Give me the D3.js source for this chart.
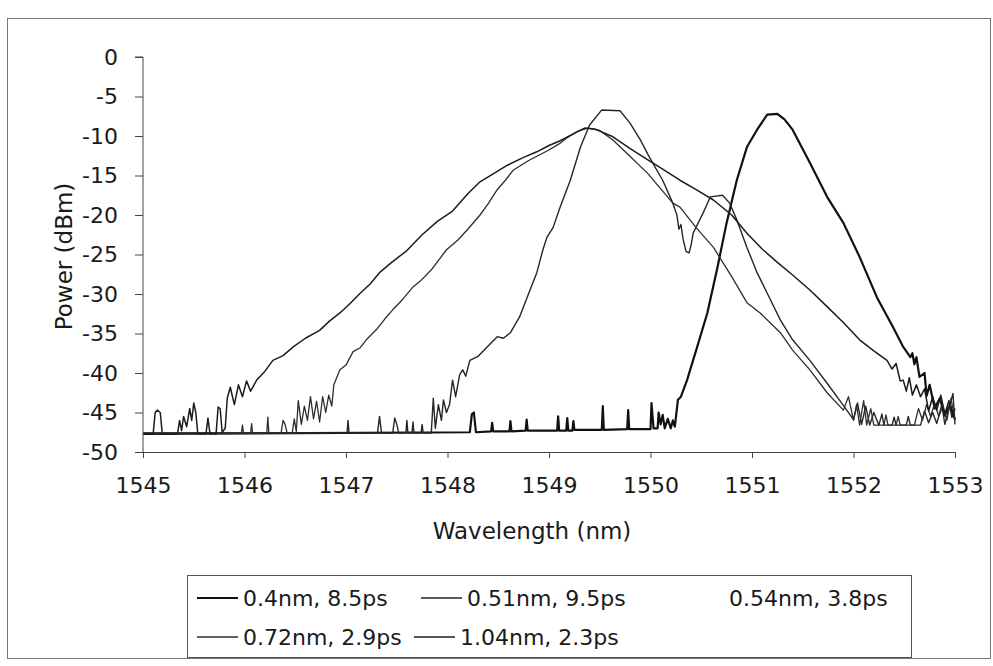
<!DOCTYPE html>
<html>
<head>
<meta charset="utf-8">
<script src="https://cdn.jsdelivr.net/npm/d3@7"></script>
<style>
  body { margin: 0; background: #fff; }
  svg { display: block; font-family: "DejaVu Sans", Verdana, sans-serif; }
</style>
</head>
<body>
<div id="chart"></div>
<script>
// series names, in legend order
const seriesNames = ["0.4nm, 8.5ps", "0.51nm, 9.5ps", "0.54nm, 3.8ps", "0.72nm, 2.9ps", "1.04nm, 2.3ps"];

const xTicks = [1545, 1546, 1547, 1548, 1549, 1550, 1551, 1552, 1553];
const yTicks = [0, -5, -10, -15, -20, -25, -30, -35, -40, -45, -50];

// [wavelength nm, power dBm]
const s040 = [
  [1545.00, -47.7], [1548.22, -47.5], [1548.24, -45.2], [1548.26, -45.0], [1548.28, -47.5],
  [1548.43, -47.4], [1548.44, -46.3], [1548.45, -47.4], [1548.61, -47.4], [1548.62, -46.1],
  [1548.63, -47.4], [1548.77, -47.3], [1548.78, -45.9], [1548.79, -47.3], [1549.08, -47.3],
  [1549.09, -45.5], [1549.10, -47.3], [1549.17, -47.3], [1549.18, -45.7], [1549.19, -47.3],
  [1549.23, -47.3], [1549.24, -46.1], [1549.25, -47.2], [1549.52, -47.2], [1549.53, -44.2],
  [1549.54, -47.2], [1549.77, -47.1], [1549.78, -44.7], [1549.79, -47.1], [1550.00, -47.1],
  [1550.01, -43.8], [1550.02, -45.5], [1550.03, -47.0], [1550.07, -47.0], [1550.08, -45.0],
  [1550.10, -46.5], [1550.12, -45.3], [1550.14, -47.0], [1550.17, -45.8], [1550.20, -47.0],
  [1550.22, -46.0], [1550.24, -46.8], [1550.27, -43.4], [1550.30, -43.0], [1550.36, -40.9],
  [1550.46, -36.7], [1550.56, -32.4], [1550.66, -26.6], [1550.75, -21.0], [1550.85, -15.6],
  [1550.95, -11.4], [1551.05, -9.2], [1551.15, -7.3], [1551.25, -7.2], [1551.32, -7.9],
  [1551.40, -9.2], [1551.57, -13.4], [1551.74, -17.7], [1551.90, -21.0], [1552.06, -25.3],
  [1552.23, -30.4], [1552.39, -34.2], [1552.49, -36.7], [1552.56, -38.0], [1552.58, -37.5],
  [1552.60, -38.9], [1552.62, -38.0], [1552.65, -40.5], [1552.70, -40.0], [1552.72, -42.9],
  [1552.75, -41.5], [1552.80, -44.5], [1552.85, -43.2], [1552.90, -45.4], [1552.95, -44.0],
  [1553.00, -45.9]
];

const s051 = [
  [1545.00, -47.6], [1547.01, -47.6], [1547.02, -46.0], [1547.03, -47.6], [1547.31, -47.6],
  [1547.33, -45.5], [1547.35, -47.6], [1547.46, -47.6], [1547.48, -45.7], [1547.50, -46.5],
  [1547.52, -47.6], [1547.59, -47.6], [1547.60, -46.0], [1547.61, -47.6], [1547.65, -47.6],
  [1547.66, -46.2], [1547.67, -47.6], [1547.74, -47.6], [1547.75, -46.5], [1547.76, -47.6],
  [1547.84, -47.6], [1547.86, -43.2], [1547.88, -47.0], [1547.91, -44.0], [1547.94, -46.0],
  [1547.96, -43.4], [1547.99, -45.0], [1548.02, -44.0], [1548.05, -40.9], [1548.08, -43.0],
  [1548.12, -40.2], [1548.15, -39.6], [1548.18, -40.4], [1548.22, -38.4], [1548.30, -37.9],
  [1548.39, -36.7], [1548.49, -35.4], [1548.55, -35.6], [1548.62, -34.9], [1548.71, -32.9],
  [1548.81, -29.6], [1548.88, -27.3], [1548.94, -24.4], [1548.98, -22.8], [1549.04, -21.6],
  [1549.11, -19.0], [1549.21, -15.6], [1549.31, -11.4], [1549.40, -8.6], [1549.52, -6.7],
  [1549.70, -6.8], [1549.80, -8.4], [1549.90, -10.5], [1549.99, -12.7], [1550.12, -15.6],
  [1550.22, -18.5], [1550.26, -20.0], [1550.28, -21.8], [1550.30, -21.2], [1550.32, -23.0],
  [1550.35, -24.6], [1550.38, -24.8], [1550.40, -23.8], [1550.42, -22.3], [1550.52, -19.7],
  [1550.59, -17.7], [1550.71, -17.5], [1550.78, -18.5], [1550.85, -20.6], [1550.95, -24.1],
  [1551.05, -27.3], [1551.15, -29.9], [1551.28, -33.3], [1551.40, -35.8], [1551.57, -38.4],
  [1551.74, -41.3], [1551.90, -44.1], [1552.00, -45.9], [1552.04, -43.8], [1552.08, -46.5],
  [1552.12, -44.2], [1552.16, -46.6], [1552.20, -45.0], [1552.25, -46.6], [1552.28, -45.2],
  [1552.30, -46.6], [1552.38, -46.6], [1552.40, -45.6], [1552.42, -46.6], [1552.52, -46.6],
  [1552.54, -45.5], [1552.56, -46.6], [1552.66, -46.6], [1552.70, -44.8], [1552.74, -46.3],
  [1552.78, -45.0], [1552.82, -46.4], [1552.87, -44.0], [1552.90, -46.5], [1552.94, -44.5],
  [1552.98, -42.6], [1553.00, -46.5]
];

// no visible trace for this one in the picture
const s054 = [];

const s072 = [
  [1545.00, -47.6], [1545.97, -47.6], [1545.98, -46.6], [1545.99, -47.6], [1546.06, -47.6],
  [1546.07, -46.4], [1546.08, -47.6], [1546.22, -47.6], [1546.23, -45.6], [1546.24, -47.6],
  [1546.36, -47.6], [1546.38, -46.0], [1546.40, -46.5], [1546.42, -47.6], [1546.47, -47.6],
  [1546.49, -45.8], [1546.51, -47.4], [1546.53, -43.5], [1546.56, -46.5], [1546.59, -44.2],
  [1546.62, -46.0], [1546.65, -43.0], [1546.68, -45.8], [1546.71, -43.6], [1546.74, -46.2],
  [1546.77, -43.0], [1546.80, -45.0], [1546.83, -42.8], [1546.86, -44.2], [1546.88, -41.5],
  [1546.94, -39.6], [1547.00, -39.0], [1547.07, -37.3], [1547.14, -36.8], [1547.20, -35.8],
  [1547.30, -34.5], [1547.38, -33.2], [1547.46, -32.0], [1547.55, -30.8], [1547.66, -29.1],
  [1547.73, -28.4], [1547.85, -26.8], [1547.99, -24.4], [1548.10, -23.2], [1548.20, -21.8],
  [1548.32, -20.0], [1548.40, -18.6], [1548.49, -16.8], [1548.57, -15.6], [1548.65, -14.3],
  [1548.80, -13.1], [1548.98, -11.9], [1549.10, -11.0], [1549.18, -10.2], [1549.28, -9.4],
  [1549.38, -9.0], [1549.50, -9.3], [1549.63, -10.5], [1549.80, -12.6], [1549.97, -14.7],
  [1550.22, -18.5], [1550.29, -19.0], [1550.45, -21.6], [1550.62, -24.1], [1550.80, -27.8],
  [1550.95, -31.1], [1551.08, -32.4], [1551.28, -34.9], [1551.40, -37.1], [1551.57, -39.6],
  [1551.74, -42.5], [1551.90, -44.7], [1551.95, -43.0], [1552.00, -46.0], [1552.03, -44.0],
  [1552.06, -46.6], [1552.10, -43.5], [1552.13, -46.6], [1552.17, -44.5], [1552.20, -46.6],
  [1552.30, -46.6], [1552.32, -45.3], [1552.34, -46.6], [1552.42, -46.6], [1552.44, -45.5],
  [1552.46, -46.6], [1552.60, -46.6], [1552.64, -44.5], [1552.68, -46.0], [1552.72, -44.0],
  [1552.76, -45.5], [1552.80, -43.8], [1552.84, -45.5], [1552.88, -44.2], [1552.92, -46.0],
  [1552.96, -43.2], [1553.00, -46.0]
];

const s104 = [
  [1545.00, -47.7], [1545.10, -47.7], [1545.12, -45.0], [1545.14, -44.7], [1545.17, -45.0],
  [1545.19, -47.7], [1545.34, -47.7], [1545.36, -46.0], [1545.38, -47.3], [1545.40, -45.5],
  [1545.43, -46.8], [1545.46, -44.5], [1545.48, -46.0], [1545.50, -43.8], [1545.52, -45.0],
  [1545.54, -47.7], [1545.62, -47.7], [1545.64, -45.7], [1545.66, -47.7], [1545.72, -47.7],
  [1545.74, -44.3], [1545.76, -44.5], [1545.78, -47.5], [1545.81, -47.0], [1545.83, -43.2],
  [1545.86, -41.8], [1545.90, -44.0], [1545.94, -41.5], [1545.98, -43.0], [1546.02, -41.0],
  [1546.06, -42.3], [1546.12, -40.9], [1546.20, -39.8], [1546.28, -38.4], [1546.38, -37.8],
  [1546.48, -36.7], [1546.60, -35.6], [1546.74, -34.6], [1546.84, -33.4], [1546.94, -32.4],
  [1547.04, -31.2], [1547.14, -29.9], [1547.24, -28.7], [1547.33, -27.3], [1547.45, -26.0],
  [1547.60, -24.5], [1547.75, -22.5], [1547.90, -20.8], [1548.05, -19.5], [1548.20, -17.3],
  [1548.32, -15.8], [1548.45, -14.8], [1548.59, -13.7], [1548.75, -12.7], [1548.88, -12.0],
  [1549.00, -11.2], [1549.11, -10.6], [1549.23, -9.8], [1549.35, -9.0], [1549.45, -9.1],
  [1549.63, -10.1], [1549.80, -11.6], [1549.97, -13.0], [1550.12, -14.2], [1550.29, -15.6],
  [1550.45, -16.8], [1550.62, -18.1], [1550.80, -20.0], [1550.95, -22.3], [1551.10, -24.3],
  [1551.25, -26.0], [1551.40, -27.6], [1551.57, -29.5], [1551.74, -31.6], [1551.90, -33.6],
  [1552.06, -35.8], [1552.20, -37.2], [1552.33, -38.4], [1552.38, -39.5], [1552.42, -38.8],
  [1552.46, -41.0], [1552.49, -40.9], [1552.52, -42.3], [1552.55, -40.6], [1552.58, -42.8],
  [1552.62, -41.5], [1552.66, -43.0], [1552.70, -42.0], [1552.74, -44.8], [1552.78, -43.0],
  [1552.82, -44.7], [1552.86, -42.8], [1552.90, -45.2], [1552.94, -43.5], [1552.97, -45.6],
  [1553.00, -44.5]
];

const seriesData = [s040, s051, s054, s072, s104];
const seriesColors = ["#111111", "#262626", "#ffffff", "#2e2e2e", "#1c1c1c"];
const seriesWidths = [2.2, 1.4, 1.4, 1.3, 1.5];

const W = 993, H = 666;
const svg = d3.select("#chart").append("svg").attr("width", W).attr("height", H);

// outer chart frame
svg.append("rect")
  .attr("x", 7.5).attr("y", 18.5).attr("width", 983).attr("height", 640)
  .attr("fill", "none").attr("stroke", "#777").attr("stroke-width", 1);

const x = d3.scaleLinear().domain([1545, 1553]).range([143, 955]);
const y = d3.scaleLinear().domain([-50, 0]).range([452, 57]);

// lines
const line = d3.line().x(d => x(d[0])).y(d => y(d[1]));
const plot = svg.append("g");
seriesData.forEach((data, i) => {
  if (!data.length) return;
  plot.append("path")
    .datum(data)
    .attr("fill", "none")
    .attr("stroke", seriesColors[i])
    .attr("stroke-width", seriesWidths[i])
    .attr("stroke-linejoin", "round")
    .attr("d", line);
});

// axes
const xAxis = d3.axisBottom(x).tickValues(xTicks).tickFormat(d => String(d))
  .tickSize(6).tickPadding(19);
const yAxis = d3.axisLeft(y).tickValues(yTicks).tickFormat(d => String(d))
  .tickSize(8).tickPadding(17);

const gx = svg.append("g").attr("transform", `translate(0,${y(-50)})`).call(xAxis);
const gy = svg.append("g").attr("transform", `translate(${x(1545)},0)`).call(yAxis);

[gx, gy].forEach(g => {
  g.select(".domain").attr("stroke", "#444");
  g.selectAll(".tick line").attr("stroke", "#444");
  g.selectAll(".tick text")
    .attr("fill", "#1a1a1a")
    .style("font-size", "22px")
    .style("font-family", "'DejaVu Sans', Verdana, sans-serif");
});
gy.select(".domain").attr("d", `M-8,${y(0)}H0V${y(-50)}`);

// axis titles
svg.append("text")
  .attr("transform", `translate(64,${(y(0) + y(-50)) / 2 + 2}) rotate(-90)`)
  .attr("text-anchor", "middle")
  .attr("dominant-baseline", "central")
  .attr("fill", "#1a1a1a")
  .style("font-size", "23px")
  .text("Power (dBm)");

svg.append("text")
  .attr("x", 532).attr("y", 531)
  .attr("text-anchor", "middle")
  .attr("dominant-baseline", "central")
  .attr("fill", "#1a1a1a")
  .style("font-size", "23px")
  .text("Wavelength (nm)");

// legend
svg.append("rect")
  .attr("x", 187.5).attr("y", 575.5).attr("width", 724).attr("height", 82)
  .attr("fill", "none").attr("stroke", "#555").attr("stroke-width", 1);

const legendPos = [
  { lx: 197, tx: 243, y: 598 },
  { lx: 421, tx: 467, y: 598 },
  { lx: 683, tx: 729, y: 598 },
  { lx: 197, tx: 243, y: 637 },
  { lx: 414, tx: 460, y: 637 }
];

const legend = svg.append("g");
seriesNames.forEach((name, i) => {
  const p = legendPos[i];
  legend.append("line")
    .attr("x1", p.lx).attr("x2", p.lx + 41)
    .attr("y1", p.y).attr("y2", p.y)
    .attr("stroke", seriesColors[i])
    .attr("stroke-width", seriesWidths[i]);
  legend.append("text")
    .attr("x", p.tx).attr("y", p.y)
    .attr("dominant-baseline", "central")
    .attr("fill", "#1a1a1a")
    .style("font-size", "22px")
    .text(name);
});
</script>
</body>
</html>
